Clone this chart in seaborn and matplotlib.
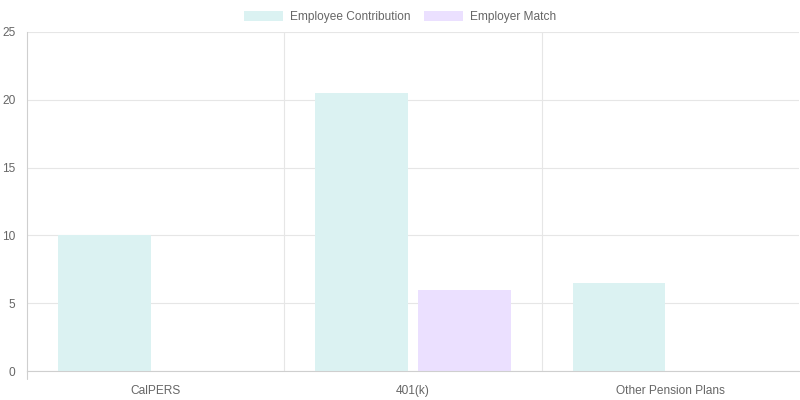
import pandas as pd
import matplotlib
matplotlib.use('Agg')
import matplotlib.pyplot as plt
from matplotlib.patches import Patch
import seaborn as sns

# data
plans = ['CalPERS', '401(k)', 'Other Pension Plans']
employee_contribution = [10, 20.5, 6.5]
employer_match = [0, 6, 0]
series_names = ['Employee Contribution', 'Employer Match']
fill_colors = ['#dbf2f2', '#ebe0ff']
y_ticks = [0, 5, 10, 15, 20, 25]

df = pd.DataFrame({
    'plan': plans * 2,
    'value': employee_contribution + employer_match,
    'series': [series_names[0]] * 3 + [series_names[1]] * 3,
})

sns.set_style('white')
plt.rcParams['font.family'] = ['Liberation Sans', 'DejaVu Sans']
fs = 8.6

fig = plt.figure(figsize=(8, 4), dpi=100)
ax = fig.add_axes([27 / 800, 29 / 400, 772 / 800, 339 / 400])

sns.barplot(data=df, x='plan', y='value', hue='series', order=plans,
            hue_order=series_names, palette=fill_colors, width=0.8, gap=0.1,
            saturation=1, linewidth=0, legend=False, ax=ax)

grid_c = '#e6e6e6'
axis_c = '#cfcfcf'
ax.set_xlim(-0.5, 2.5)
ax.set_ylim(0, 25)
ax.set_yticks(y_ticks)
ax.set_xlabel('')
ax.set_ylabel('')

ax.set_xticks([0.5, 1.5], minor=True)
ax.grid(axis='y', color=grid_c, linewidth=0.8)
ax.grid(axis='x', which='minor', color=grid_c, linewidth=0.8)
ax.set_axisbelow(True)

ax.tick_params(axis='y', length=6, color=grid_c, width=0.8, labelsize=fs,
               labelcolor='#666666', pad=2.5)
ax.tick_params(axis='x', which='major', length=0, labelsize=fs,
               labelcolor='#666666', pad=10)
ax.tick_params(axis='x', which='minor', length=8, color=grid_c, width=0.8)

for side in ['top', 'right']:
    ax.spines[side].set_visible(False)
for side in ['left', 'bottom']:
    ax.spines[side].set_color(axis_c)
    ax.spines[side].set_linewidth(0.8)
ax.spines['left'].set_bounds(0, 25)

# left axis tail below zero, like the category grid lines
ax.plot([-0.5, -0.5], [0, -8 / 13.56], color=axis_c, linewidth=0.8,
        clip_on=False)

handles = [Patch(facecolor=c, edgecolor='none') for c in fill_colors]
fig.legend(handles, series_names, loc='upper center', bbox_to_anchor=(0.5, 1.0),
           ncol=2, frameon=False, fontsize=fs, labelcolor='#666666',
           handlelength=3.3, handleheight=1.0, handletextpad=0.6,
           columnspacing=1.1, borderaxespad=0.5)

fig.savefig('out.png', dpi=100)
